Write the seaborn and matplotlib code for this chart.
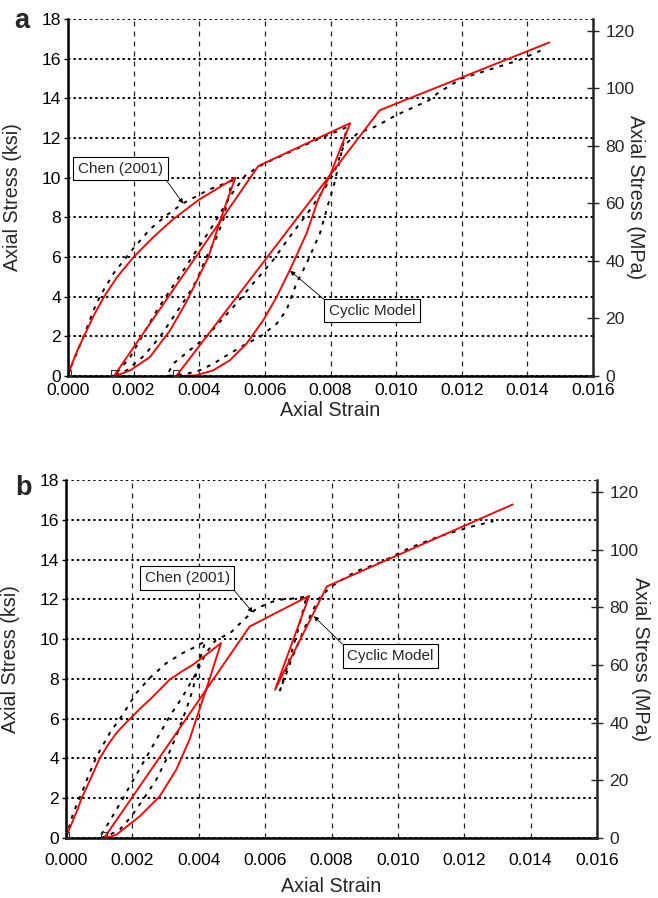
import numpy as np
import pandas as pd
import matplotlib
matplotlib.use('Agg')
import matplotlib.pyplot as plt
import seaborn as sns

sns.set_style('white')
plt.rcParams['font.family'] = ['Liberation Sans', 'DejaVu Sans']

KSI_TO_MPA = 6.895

# ---------------- panel a ----------------
# cyclic model (red)
model_a_strain = [0.0, 0.0001, 0.0002, 0.0003, 0.0005, 0.0008, 0.0011, 0.0015, 0.00175, 0.0020, 0.0023, 0.0026,
                  0.0029, 0.0032, 0.0036, 0.0040, 0.0046, 0.0051,
                  0.00467, 0.00428, 0.00393, 0.00358, 0.00311, 0.0025, 0.0019, 0.0015,
                  0.0014, 0.0058, 0.0086,
                  0.0080, 0.00762, 0.00727, 0.00676, 0.00636, 0.00595, 0.00544, 0.00493, 0.00443, 0.0039,
                  0.0033, 0.0095, 0.01467]
model_a_stress = [0.0, 0.5, 0.95, 1.35, 2.05, 3.1, 4.0, 5.0, 5.5, 6.0, 6.5, 7.0,
                  7.45, 7.9, 8.4, 8.9, 9.5, 10.0,
                  8.0, 6.0, 4.82, 3.65, 2.3, 0.96, 0.29, 0.03,
                  0.0, 10.59, 12.75,
                  10.17, 8.87, 7.19, 5.34, 3.99, 2.81, 1.63, 0.79, 0.29, 0.03,
                  0.0, 13.4, 16.82]

# Chen (2001) test (black dotted)
chen_a_strain = [0.0, 0.0001, 0.0003, 0.0005, 0.0008, 0.0010, 0.0014, 0.0020, 0.0025, 0.0030, 0.0035, 0.0043, 0.0050,
                 0.00473, 0.00453, 0.00422, 0.00392, 0.00362, 0.00321, 0.0028, 0.0023, 0.0018, 0.0014,
                 0.0019, 0.0023, 0.00271, 0.00311, 0.00352, 0.00392, 0.00432, 0.00463, 0.0050, 0.0054, 0.0058,
                 0.0061, 0.0069, 0.0077, 0.0083, 0.0085,
                 0.0083, 0.0081, 0.0079, 0.00768, 0.00727, 0.00696, 0.00666, 0.00636, 0.00585, 0.00544, 0.00493,
                 0.00443, 0.00402, 0.0036, 0.0030,
                 0.00322, 0.00372, 0.00422, 0.00504, 0.00564, 0.00625, 0.00676, 0.00737, 0.0078, 0.0081, 0.0084,
                 0.0088, 0.0094, 0.0100, 0.0110, 0.0113, 0.0120, 0.0137, 0.0144]
chen_a_stress = [0.0, 0.5, 1.3, 2.1, 3.4, 4.1, 5.2, 6.45, 7.4, 8.1, 8.7, 9.4, 9.85,
                 7.85, 7.0, 6.0, 4.82, 3.98, 2.97, 1.97, 1.0, 0.3, 0.0,
                 0.96, 2.13, 3.31, 4.32, 5.33, 6.34, 7.34, 8.18, 9.2, 10.1, 10.55,
                 10.8, 11.4, 12.0, 12.4, 12.55,
                 11.0, 9.6, 8.5, 7.2, 5.67, 4.66, 3.32, 2.64, 1.97, 1.63, 1.13,
                 0.62, 0.29, 0.1, 0.0,
                 0.64, 1.31, 1.98, 3.48, 4.66, 5.84, 7.02, 8.37, 9.4, 10.2, 11.6,
                 12.2, 12.6, 13.15, 13.9, 14.3, 15.0, 15.9, 16.4]

start_a_strain = [0.0, 0.0014, 0.0033]
start_a_stress = [0.15, 0.15, 0.15]

# ---------------- panel b ----------------
model_b_strain = [0.0, 0.0001, 0.00022, 0.00035, 0.00047, 0.00065, 0.00082, 0.0010, 0.00125, 0.00152, 0.00178,
                  0.0020, 0.00226, 0.00252, 0.00282, 0.00312, 0.00347, 0.00382, 0.00425, 0.00467,
                  0.00432, 0.00402, 0.00372, 0.00332, 0.00282, 0.00222, 0.00152, 0.00132,
                  0.00115, 0.00553, 0.00733, 0.0063, 0.00786, 0.01346]
model_b_stress = [0.0, 0.45, 0.92, 1.45, 2.0, 2.65, 3.27, 3.95, 4.65, 5.28, 5.75,
                  6.11, 6.55, 6.95, 7.45, 7.96, 8.35, 8.71, 9.25, 9.8,
                  7.96, 6.45, 4.94, 3.43, 2.09, 1.09, 0.17, 0.05,
                  0.0, 10.63, 12.18, 7.46, 12.65, 16.77]

chen_b_strain = [0.0, 0.00007, 0.00022, 0.00047, 0.00067, 0.00092, 0.00132, 0.00167, 0.00212, 0.00252, 0.00302,
                 0.00352, 0.00392, 0.0042,
                 0.00397, 0.00382, 0.00362, 0.00332, 0.00302, 0.00272, 0.00232, 0.00197, 0.00162, 0.00122, 0.0010,
                 0.00122, 0.00152, 0.00192, 0.00232, 0.00272, 0.00312, 0.00352, 0.00392, 0.00422, 0.00452,
                 0.00494, 0.00535, 0.00575, 0.00635, 0.00696, 0.00725,
                 0.0070, 0.0067, 0.00645, 0.0068, 0.0072, 0.0076, 0.0079,
                 0.00816, 0.00876, 0.00946, 0.01037, 0.01127, 0.01227, 0.01288]
chen_b_stress = [0.0, 0.42, 1.26, 2.26, 3.1, 4.1, 5.28, 6.11, 7.29, 8.04, 8.79,
                 9.3, 9.63, 9.9,
                 8.63, 7.45, 6.45, 5.11, 3.94, 2.93, 1.93, 1.09, 0.42, 0.08, 0.0,
                 0.59, 1.42, 2.6, 3.77, 4.94, 6.11, 7.12, 8.29, 9.3, 9.97,
                 10.29, 10.96, 11.55, 11.97, 12.06, 12.15,
                 10.5, 8.8, 7.42, 9.0, 10.6, 12.0, 12.5,
                 12.83, 13.42, 13.84, 14.6, 15.18, 15.68, 15.93]

start_b_strain = [0.0, 0.00115]
start_b_stress = [0.15, 0.15]

strain_ticks = np.arange(0, 0.0161, 0.002)
ksi_ticks = np.arange(0, 19, 2)
mpa_ticks = np.arange(0, 121, 20)

fig = plt.figure(figsize=(6.58, 8.98), dpi=100)
ax_a = fig.add_axes([68 / 658, 1 - 376 / 898, 525 / 658, 357 / 898])
ax_b = fig.add_axes([66 / 658, 1 - 838 / 898, 531 / 658, 358 / 898])


def draw_panel(ax, model_x, model_y, chen_x, chen_y, sq_x, sq_y,
               chen_box, chen_tip, cyc_box, cyc_tip, tick_pad, xlabel_y):
    chen = pd.DataFrame({'strain': chen_x, 'stress': chen_y})
    model = pd.DataFrame({'strain': model_x, 'stress': model_y})

    ax.set_xlim(0, 0.016)
    ax.set_ylim(0, 18)

    # grid: dotted horizontal, dashed vertical
    ax.set_axisbelow(True)
    ax.yaxis.grid(True, color='black', linestyle=(0, (1.2, 1.6)), linewidth=1.4)
    ax.xaxis.grid(True, color='#222222', linestyle=(0, (4, 4)), linewidth=0.9)

    sns.lineplot(data=chen, x='strain', y='stress', sort=False, estimator=None,
                 color='black', linewidth=1.4, linestyle=(0, (2, 3.2)), ax=ax)
    sns.lineplot(data=model, x='strain', y='stress', sort=False, estimator=None,
                 color='#ff0000', linewidth=1.35, ax=ax)
    ax.plot(sq_x, sq_y, 's', ms=4.5, mfc='none', mec='#333333', mew=0.8, zorder=3)

    ax.set_xticks(strain_ticks)
    ax.set_xticklabels([f'{v:.3f}' for v in strain_ticks])
    ax.set_yticks(ksi_ticks)
    ax.tick_params(axis='both', labelsize=12.6, colors='black')
    ax.tick_params(axis='y', direction='out', length=3, width=1, pad=2)
    ax.tick_params(axis='x', direction='out', length=3, width=1, pad=tick_pad)

    ax.set_xlabel('Axial Strain', fontsize=14.2)
    ax.set_ylabel('Axial Stress (ksi)', fontsize=14.2)
    ax.xaxis.set_label_coords(0.5, xlabel_y)
    ax.yaxis.set_label_coords(-0.087, 0.5)

    for side in ['left', 'bottom']:
        ax.spines[side].set_linewidth(1.8)
        ax.spines[side].set_color('black')
    ax.spines['top'].set_visible(False)
    ax.spines['right'].set_visible(False)

    ax2 = ax.twinx()
    ax2.set_ylim(0, 18 * KSI_TO_MPA)
    ax2.set_yticks(mpa_ticks)
    ax2.tick_params(axis='y', direction='inout', length=8, width=1, labelsize=12.6, pad=5)
    ax2.set_ylabel('Axial Stress (MPa)', fontsize=14.2, rotation=270)
    ax2.yaxis.set_label_coords(1.1, 0.5)
    for side in ['left', 'top', 'bottom']:
        ax2.spines[side].set_visible(False)
    ax2.spines['right'].set_linewidth(1.8)

    box = dict(boxstyle='square,pad=0.3', fc='white', ec='black', lw=0.8)
    ax.annotate('Chen (2001)', xy=chen_tip, xytext=chen_box, textcoords='data',
                ha='center', va='center', fontsize=11, bbox=box, zorder=6,
                arrowprops=dict(arrowstyle='-|>', color='black', lw=0.6,
                                mutation_scale=7, relpos=(1, 0), shrinkA=0, shrinkB=0))
    ax.annotate('Cyclic Model', xy=cyc_tip, xytext=cyc_box, textcoords='data',
                ha='center', va='center', fontsize=11, bbox=box, zorder=6,
                arrowprops=dict(arrowstyle='-|>', color='black', lw=0.6,
                                mutation_scale=7, relpos=(0, 1), shrinkA=0, shrinkB=0))


draw_panel(ax_a, model_a_strain, model_a_stress, chen_a_strain, chen_a_stress,
           start_a_strain, start_a_stress,
           chen_box=(0.0016, 10.45), chen_tip=(0.00351, 8.7),
           cyc_box=(0.00927, 3.3), cyc_tip=(0.00677, 5.3),
           tick_pad=2, xlabel_y=-0.069)
draw_panel(ax_b, model_b_strain, model_b_stress, chen_b_strain, chen_b_stress,
           start_b_strain, start_b_stress,
           chen_box=(0.00365, 13.07), chen_tip=(0.00563, 11.34),
           cyc_box=(0.00978, 9.15), cyc_tip=(0.00747, 11.15),
           tick_pad=8, xlabel_y=-0.11)

fig.text(14 / 658, 1 - 28 / 898, 'a', fontsize=19.5, fontweight='bold', ha='left', va='baseline')
fig.text(15 / 658, 1 - 495 / 898, 'b', fontsize=19.5, fontweight='bold', ha='left', va='baseline')

fig.savefig('out.png', dpi=100)
